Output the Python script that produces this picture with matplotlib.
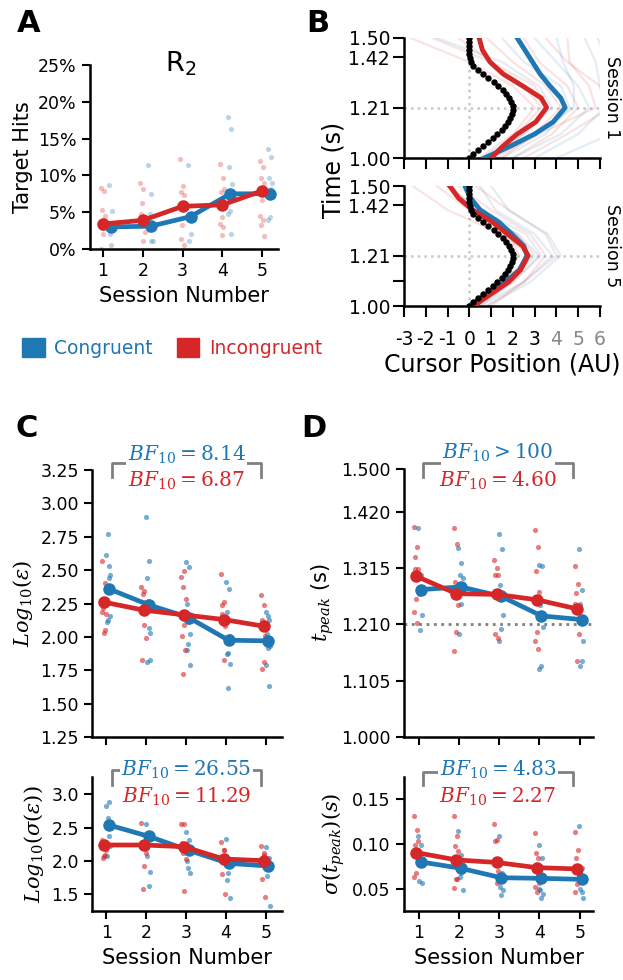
import numpy as np
import matplotlib
matplotlib.use("Agg")
import matplotlib.pyplot as plt
from matplotlib.patches import Patch

plt.rcParams['mathtext.fontset'] = 'dejavuserif'
plt.rcParams['axes.unicode_minus'] = False
plt.rcParams['font.family'] = ['DejaVu Sans']

BLUE = '#1f77b4'
RED = '#d62728'

sessions = [1, 2, 3, 4, 5]

# ---- panel A: target hits (%) ----
a_blue_mean = [3.0, 3.1, 4.4, 7.5, 7.5]
a_red_mean = [3.4, 3.9, 5.8, 6.0, 7.9]
a_blue_pts = [[8.7, 5.2, 2.1, 2.6, 0.6],
              [11.4, 7.5, 4.8, 1.1, 1.1, 2.6],
              [11.4, 2.0, 1.1],
              [18.0, 16.3, 11.1, 8.8, 5.2, 4.7, 2.0],
              [13.6, 12.5, 9.6, 9.0, 4.3, 3.9, 8.2]]
a_red_pts = [[8.3, 7.9, 5.3, 4.5, 2.0, 0.0, 3.9, 2.8],
             [9.0, 8.2, 6.3, 2.3, 1.1, 4.7],
             [12.2, 8.5, 7.7, 7.3, 3.3, 1.4, 0.5],
             [11.5, 9.6, 7.8, 8.1, 4.4, 3.4, 3.0, 1.9],
             [11.9, 11.1, 9.6, 9.0, 6.7, 4.5, 3.9, 3.3, 1.8]]

# ---- panel B: cursor trajectories ----
b_target_t = np.arange(31) / 60 + 1.0
b_target_x = [0, 0.16, 0.38, 0.62, 0.85, 1.08, 1.28, 1.50, 1.63, 1.77, 1.88,
              1.95, 2.0, 1.99, 1.93, 1.84, 1.70, 1.53, 1.33, 1.12, 0.84, 0.64,
              0.40, 0.18, 0.07, 0.02, 0, 0, 0, 0, 0]
b_mean_t = [1.00, 1.05, 1.10, 1.15, 1.21, 1.25, 1.30, 1.35, 1.40, 1.45, 1.50]
b_s1_red = [1.0, 1.55, 2.2, 3.05, 3.55, 3.3, 2.45, 1.55, 0.95, 0.6, 0.45]
b_s1_blue = [0.7, 1.9, 3.0, 3.85, 4.4, 4.2, 3.7, 3.25, 2.9, 2.55, 2.2]
b_s5_red = [0.2, 1.0, 1.8, 2.35, 2.7, 2.45, 1.75, 1.05, 0.15, -0.5, -0.9]
b_s5_blue = [0.0, 0.8, 1.65, 2.3, 2.65, 2.5, 1.95, 1.35, 0.5, 0.05, -0.2]
b_subj_t = [1.0, 1.1, 1.21, 1.3, 1.4, 1.5]
b_s1_red_subj = [[0.5, 2.0, 3.0, 2.0, 0.0, -2.7],
                 [1.0, 2.5, 3.6, 3.0, 1.0, -1.7],
                 [1.5, 3.0, 4.2, 3.5, 2.0, 0.8],
                 [2.0, 3.8, 5.0, 4.5, 3.2, 2.5],
                 [1.2, 3.2, 5.8, 5.5, 4.6, 4.5],
                 [0.8, 2.2, 3.3, 2.5, 1.0, -0.5],
                 [2.5, 4.5, 6.5, 6.0, 4.5, 3.5]]
b_s1_blue_subj = [[0.5, 2.5, 3.8, 3.2, 1.5, -1.5],
                  [1.5, 3.5, 4.6, 4.2, 2.5, 1.5],
                  [3.0, 5.0, 6.2, 6.0, 5.8, 5.3],
                  [2.0, 4.2, 5.5, 5.0, 4.0, 3.0],
                  [4.0, 6.5, 7.0, 6.5, 6.3, 5.9],
                  [1.0, 3.0, 4.8, 4.8, 4.3, 4.0]]
b_s5_red_subj = [[0.3, 1.5, 2.8, 1.5, -1.0, -2.6],
                 [0.5, 2.0, 3.2, 2.2, 0.0, -1.5],
                 [1.0, 2.5, 3.5, 2.8, 1.0, -0.5],
                 [0.8, 2.5, 4.0, 3.5, 1.8, 0.3],
                 [0.0, 1.2, 2.3, 1.8, 0.3, -1.0]]
b_s5_blue_subj = [[0.2, 2.0, 3.3, 2.6, 0.5, -1.0],
                  [0.5, 2.5, 3.8, 3.0, 1.2, 0.5],
                  [0.8, 2.8, 4.2, 3.6, 1.8, 1.0],
                  [0.3, 1.8, 3.0, 2.2, 0.2, -0.8]]

# ---- panel C: log10 error ----
c1_blue_mean = [2.36, 2.24, 2.145, 1.975, 1.97]
c1_red_mean = [2.26, 2.20, 2.165, 2.13, 2.08]
c1_blue_pts = [[2.61, 2.53, 2.77, 2.46, 2.44, 2.11, 2.16, 2.13],
               [2.90, 2.57, 2.44, 2.03, 2.07, 1.81, 1.83, 2.27],
               [2.56, 2.52, 2.25, 2.02, 1.95, 1.90, 1.79, 2.11],
               [2.41, 2.36, 2.19, 2.01, 1.88, 1.87, 1.80, 1.62],
               [2.19, 2.13, 2.02, 1.93, 1.92, 1.79, 1.63, 2.16]]
c1_red_pts = [[2.57, 2.40, 2.22, 2.17, 2.03, 2.19, 2.05],
              [2.37, 2.34, 2.32, 1.99, 2.09, 1.83, 2.26],
              [2.45, 2.49, 2.37, 2.28, 2.09, 2.01, 1.90, 1.72],
              [2.47, 2.26, 2.17, 2.08, 1.83, 2.24],
              [2.31, 2.24, 2.13, 2.01, 1.81, 1.76]]
c2_blue_mean = [2.54, 2.37, 2.16, 1.965, 1.925]
c2_red_mean = [2.24, 2.24, 2.215, 2.03, 2.005]
c2_blue_pts = [[2.82, 2.88, 2.64, 2.49, 2.37, 2.08, 2.22],
               [2.55, 2.40, 2.07, 1.83, 1.63, 2.20],
               [2.43, 2.31, 2.00, 1.82, 1.90, 2.15],
               [2.33, 1.94, 1.72, 1.44, 1.82],
               [2.21, 2.04, 1.78, 1.33, 2.00, 1.97]]
c2_red_pts = [[2.32, 2.09, 2.04, 2.17, 2.07],
              [2.57, 1.92, 1.58, 2.12, 2.22],
              [2.55, 2.55, 2.12, 2.03, 1.55, 2.27],
              [2.29, 2.16, 1.81, 1.50, 2.17],
              [2.22, 2.12, 1.73, 1.46, 2.09]]

# ---- panel D: peak time ----
d1_blue_mean = [1.275, 1.28, 1.2625, 1.226, 1.219]
d1_red_mean = [1.30, 1.2675, 1.266, 1.256, 1.239]
d1_blue_pts = [[1.389, 1.302, 1.2675, 1.227, 1.199],
               [1.352, 1.324, 1.302, 1.2975, 1.249, 1.1925],
               [1.379, 1.35, 1.283, 1.228, 1.202, 1.179],
               [1.32, 1.319, 1.246, 1.206, 1.132, 1.127],
               [1.35, 1.274, 1.2475, 1.18, 1.141, 1.133]]
d1_red_pts = [[1.3925, 1.355, 1.336, 1.313, 1.258, 1.234, 1.213, 1.314],
              [1.39, 1.36, 1.289, 1.246, 1.195, 1.16],
              [1.331, 1.316, 1.302, 1.302, 1.264, 1.1925, 1.185],
              [1.386, 1.355, 1.309, 1.271, 1.196, 1.179, 1.164],
              [1.319, 1.285, 1.269, 1.1925, 1.1425, 1.249]]
d2_blue_mean = [0.0806, 0.0735, 0.063, 0.0623, 0.0612]
d2_red_mean = [0.091, 0.0828, 0.080, 0.0742, 0.0728]
d2_blue_pts = [[0.109, 0.0996, 0.0593, 0.0567, 0.0866],
               [0.1146, 0.0884, 0.0642, 0.0493, 0.068],
               [0.109, 0.0687, 0.053, 0.0493, 0.0437, 0.0604],
               [0.0996, 0.0847, 0.0493, 0.0445, 0.041, 0.05],
               [0.12, 0.0735, 0.05, 0.041, 0.0474, 0.0679]]
d2_red_pts = [[0.132, 0.1164, 0.0996, 0.1034, 0.0679, 0.0642],
              [0.132, 0.109, 0.0978, 0.0922, 0.0616, 0.0511, 0.0616],
              [0.123, 0.1052, 0.1034, 0.0709, 0.0567, 0.0828],
              [0.1127, 0.0847, 0.0903, 0.0575, 0.0474, 0.053],
              [0.1134, 0.0933, 0.0847, 0.066, 0.0556, 0.0474]]

bf_texts = {
    'c1': (r'$BF_{10} = 8.14$', r'$BF_{10} = 6.87$'),
    'c2': (r'$BF_{10} = 26.55$', r'$BF_{10} = 11.29$'),
    'd1': (r'$BF_{10} > 100$', r'$BF_{10} = 4.60$'),
    'd2': (r'$BF_{10} = 4.83$', r'$BF_{10} = 2.27$'),
}

W, H = 623, 980
fig = plt.figure(figsize=(W / 100, H / 100), dpi=100)


def add_ax(l, t, r, b):
    ax = fig.add_axes([l / W, 1 - b / H, (r - l) / W, (b - t) / H])
    for s in ['top', 'right']:
        ax.spines[s].set_visible(False)
    for s in ['left', 'bottom']:
        ax.spines[s].set_linewidth(1.8)
    ax.tick_params(width=1.5, length=6, labelsize=12.5)
    return ax


def jitter(n, width):
    return ((np.arange(n) * 0.618) % 1 - 0.5) * width


def session_plot(ax, blue_mean, red_mean, blue_pts, red_pts, dblue, dred, alpha, jw):
    for i, s in enumerate(sessions):
        ax.scatter(s + dblue + jitter(len(blue_pts[i]), jw), blue_pts[i], s=14,
                   color=BLUE, alpha=alpha, lw=0, zorder=2)
        ax.scatter(s + dred + jitter(len(red_pts[i]), jw), red_pts[i], s=14,
                   color=RED, alpha=alpha, lw=0, zorder=2)
    ax.plot(np.array(sessions) + dblue, blue_mean, '-o', color=BLUE, lw=3.4, ms=8, zorder=3)
    ax.plot(np.array(sessions) + dred, red_mean, '-o', color=RED, lw=3.4, ms=8, zorder=4)
    ax.set_xticks(sessions)


def bracket(ax, x0, x1, ytop, ylow, txt, yb, yr):
    ax.plot([x0, x0, x1, x1], [ylow, ytop, ytop, ylow], color='#808080', lw=2,
            transform=ax.transAxes, clip_on=False, zorder=5)
    xm = (x0 + x1) / 2
    ax.text(xm, yb, txt[0], color=BLUE, fontsize=14.5, ha='center', va='center',
            transform=ax.transAxes, zorder=6,
            bbox=dict(facecolor='white', edgecolor='none', pad=1))
    ax.text(xm, yr, txt[1], color=RED, fontsize=14.5, ha='center', va='center',
            transform=ax.transAxes, zorder=6)


# Panel A
axA = add_ax(90, 65, 278, 249)
session_plot(axA, a_blue_mean, a_red_mean, a_blue_pts, a_red_pts, 0.2, 0.0, 0.3, 0.12)
axA.set_xlim(0.67, 5.4)
axA.set_ylim(0, 25)
axA.set_yticks([0, 5, 10, 15, 20, 25])
axA.set_yticklabels(['0%', '5%', '10%', '15%', '20%', '25%'])
axA.set_ylabel('Target Hits', fontsize=15)
axA.set_xlabel('Session Number', fontsize=15)
axA.text(0.484, 1.005, r'$\mathsf{R_2}$', fontsize=19.5, transform=axA.transAxes,
         ha='center', va='center')

# Panel B
axB1 = add_ax(404, 38, 600, 158)
axB2 = add_ax(404, 186, 600, 306)
panels = [(axB1, b_s1_red_subj, b_s1_blue_subj, b_s1_red, b_s1_blue, 'Session 1'),
          (axB2, b_s5_red_subj, b_s5_blue_subj, b_s5_red, b_s5_blue, 'Session 5')]
for ax, rs, bs, rm, bm, lab in panels:
    for x in rs:
        ax.plot(x, b_subj_t, color=RED, alpha=0.13, lw=1.6)
    for x in bs:
        ax.plot(x, b_subj_t, color=BLUE, alpha=0.13, lw=1.6)
    ax.axhline(1.21, color='#c8c8c8', ls=':', lw=1.8, zorder=1)
    ax.axvline(0, color='#c8c8c8', ls=':', lw=1.8, zorder=1)
    ax.plot(bm, b_mean_t, color=BLUE, lw=3.5, zorder=3)
    ax.plot(rm, b_mean_t, color=RED, lw=3.5, zorder=4)
    ax.plot(b_target_x, b_target_t, 'o', color='black', ms=3.6, zorder=5)
    ax.set_xlim(-3, 6)
    ax.set_ylim(1.0, 1.5)
    ax.set_yticks([1.0, 1.21, 1.42, 1.5])
    ax.set_yticklabels(['1.00', '1.21', '1.42', '1.50'])
    ax.set_xticks(range(-3, 7))
    ax.tick_params(labelsize=13.5, length=8)
    ax.tick_params(axis='y', pad=2)
    ax.tick_params(axis='x', pad=9)
    ax.text(1.015, 0.5, lab, rotation=-90, transform=ax.transAxes,
            ha='left', va='center', fontsize=12.5)
axB2.set_yticks([1.105], minor=True)
axB2.tick_params(which='minor', width=1.5, length=8)
axB1.set_xticklabels([])
axB2.set_xticklabels([str(v) for v in range(-3, 7)])
for t in axB2.get_xticklabels()[7:]:
    t.set_color('#888888')
axB2.set_xlabel('Cursor Position (AU)', fontsize=17, labelpad=3)
fig.text(333 / W, 1 - 170 / H, 'Time (s)', rotation=90, fontsize=17,
         ha='center', va='center')

# Legend
fig.legend(handles=[Patch(color=BLUE), Patch(color=RED)],
           labels=['Congruent', 'Incongruent'], loc='center',
           bbox_to_anchor=(172 / W, 1 - 348 / H), ncol=2, frameon=False,
           fontsize=13.5, handlelength=1.2, handleheight=1.2, columnspacing=1.3,
           handletextpad=0.5, labelcolor=[BLUE, RED])

# Panel C
axC1 = add_ax(92, 470, 282, 737)
session_plot(axC1, c1_blue_mean, c1_red_mean, c1_blue_pts, c1_red_pts, 0.06, -0.06, 0.6, 0.12)
axC1.set_xlim(0.64, 5.4)
axC1.set_ylim(1.25, 3.25)
axC1.set_yticks([1.25, 1.5, 1.75, 2.0, 2.25, 2.5, 2.75, 3.0, 3.25])
axC1.set_xticklabels([])
axC1.set_ylabel(r'$Log_{10}(\varepsilon)$', fontsize=15)
bracket(axC1, 0.105, 0.889, 1.026, 0.974, bf_texts['c1'], 1.056, 0.959)

axC2 = add_ax(92, 777, 282, 911)
session_plot(axC2, c2_blue_mean, c2_red_mean, c2_blue_pts, c2_red_pts, 0.06, -0.06, 0.6, 0.12)
axC2.set_xlim(0.64, 5.4)
axC2.set_ylim(1.25, 3.26)
axC2.set_yticks([1.5, 2.0, 2.5, 3.0])
axC2.set_ylabel(r'$Log_{10}(\sigma(\varepsilon))$', fontsize=15)
axC2.set_xlabel('Session Number', fontsize=15)
bracket(axC2, 0.105, 0.889, 1.052, 0.94, bf_texts['c2'], 1.052, 0.851)

# Panel D
axD1 = add_ax(404, 469, 593, 737)
session_plot(axD1, d1_blue_mean, d1_red_mean, d1_blue_pts, d1_red_pts, 0.05, -0.06, 0.6, 0.12)
axD1.axhline(1.21, color='#808080', ls=':', lw=2, zorder=1)
axD1.set_xlim(0.64, 5.33)
axD1.set_ylim(1.0, 1.5)
axD1.set_yticks([1.0, 1.105, 1.21, 1.315, 1.42, 1.5])
axD1.set_yticklabels(['1.000', '1.105', '1.210', '1.315', '1.420', '1.500'])
axD1.set_xticklabels([])
axD1.set_ylabel(r'$t_{peak}$ (s)', fontsize=15)
bracket(axD1, 0.10, 0.894, 1.022, 0.97, bf_texts['d1'], 1.06, 0.955)

axD2 = add_ax(404, 777, 593, 911)
session_plot(axD2, d2_blue_mean, d2_red_mean, d2_blue_pts, d2_red_pts, 0.05, -0.06, 0.6, 0.12)
axD2.set_xlim(0.64, 5.33)
axD2.set_ylim(0.026, 0.175)
axD2.set_yticks([0.05, 0.10, 0.15])
axD2.set_yticklabels(['0.05', '0.10', '0.15'])
axD2.set_ylabel(r'$\sigma(t_{peak})(s)$', fontsize=15)
axD2.set_xlabel('Session Number', fontsize=15)
bracket(axD2, 0.10, 0.894, 1.037, 0.94, bf_texts['d2'], 1.052, 0.851)

# panel letters
for lab, x, y in [('A', 29, 24), ('B', 318, 24), ('C', 27, 428), ('D', 314, 428)]:
    fig.text(x / W, 1 - y / H, lab, fontsize=22, fontweight='bold',
             ha='center', va='center')

fig.savefig('out.png', dpi=100)
plt.close(fig)
